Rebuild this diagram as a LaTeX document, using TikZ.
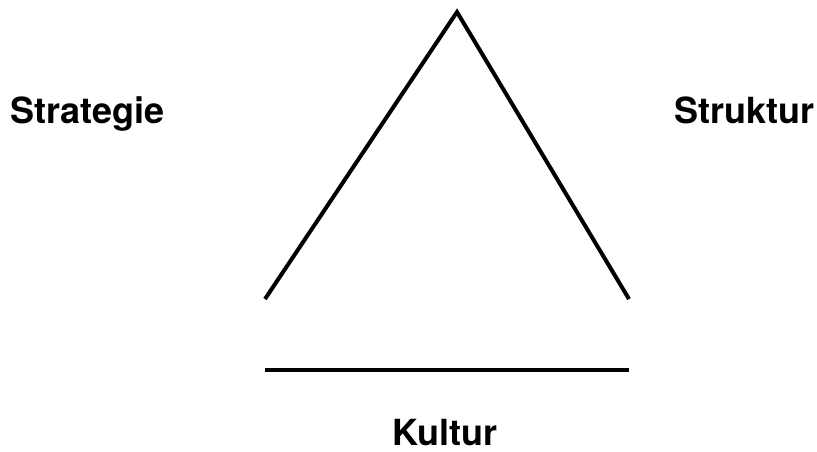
\documentclass[tikz,border=0pt]{standalone}
\usepackage{fontspec}
\setmainfont{TeX Gyre Heros}
\usetikzlibrary{positioning}

\begin{document}
\begin{tikzpicture}[
  x=1pt, y=-1pt,
  font=\fontsize{36}{40}\selectfont\bfseries,
  lbl/.style  = {anchor=base, inner sep=0pt},
  edge/.style = {line width=4pt}
]
\useasboundingbox (0,0) rectangle (817,452);

% Labels
\node[lbl] (strat) at (87.5, 124) {Strategie};
\node[lbl] (struk) at (744, 124)  {Struktur};
\node[lbl] (kult)  at (445, 445)  {Kultur};

% Corner points
\coordinate (top)   at (457, 12);
\coordinate (left)  at (265, 299);
\coordinate (right) at (629, 299);
\coordinate (bl)    at (265, 369.5);
\coordinate (br)    at (629, 369.5);

% Sides
\draw[edge] (left) -- (top) -- (right);
\draw[edge] (bl) -- (br);
\end{tikzpicture}
\end{document}
